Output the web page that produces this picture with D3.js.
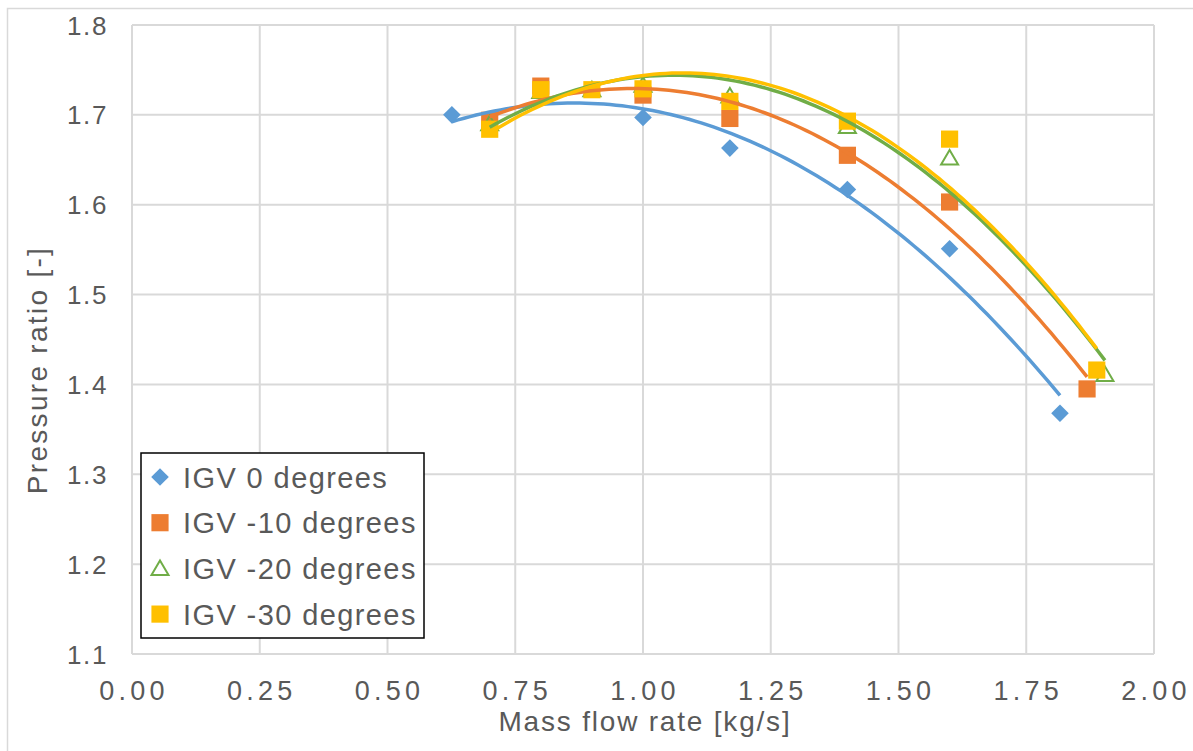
<!DOCTYPE html>
<html>
<head>
<meta charset="utf-8">
<script src="https://cdn.jsdelivr.net/npm/d3@7"></script>
<style>
  body { margin: 0; background: #fff; }
  text { font-family: "Liberation Sans", Arial, sans-serif; fill: #595959; }
</style>
</head>
<body>
<svg id="chart" width="1193" height="751"></svg>
<script>
// data
const seriesNames = ['IGV 0 degrees', 'IGV -10 degrees', 'IGV -20 degrees', 'IGV -30 degrees'];
const seriesColors = ['#5B9BD5', '#ED7D31', '#70AD47', '#FFC000'];
const seriesShapes = ['diamond', 'square', 'triangle', 'square'];

const igv0x = [0.626, 1.00, 1.17, 1.40, 1.60, 1.816];
const igv0y = [1.700, 1.697, 1.663, 1.617, 1.551, 1.368];

const igv10x = [0.70, 0.80, 1.00, 1.17, 1.40, 1.60, 1.869];
const igv10y = [1.694, 1.732, 1.722, 1.696, 1.655, 1.603, 1.395];

const igv20x = [0.70, 0.80, 0.90, 1.00, 1.17, 1.40, 1.60, 1.904];
const igv20y = [1.690, 1.726, 1.728, 1.733, 1.721, 1.687, 1.652, 1.411];

const igv30x = [0.70, 0.80, 0.90, 1.00, 1.17, 1.40, 1.60, 1.888];
const igv30y = [1.684, 1.728, 1.728, 1.729, 1.715, 1.693, 1.673, 1.416];

const xTicks = [0, 0.25, 0.5, 0.75, 1.0, 1.25, 1.5, 1.75, 2.0];
const yTicks = [1.1, 1.2, 1.3, 1.4, 1.5, 1.6, 1.7, 1.8];

const allX = [igv0x, igv10x, igv20x, igv30x];
const allY = [igv0y, igv10y, igv20y, igv30y];

const svg = d3.select('#chart');

const x = d3.scaleLinear().domain([0, 2]).range([132, 1154]);
const y = d3.scaleLinear().domain([1.1, 1.8]).range([654, 25]);

// outer chart border
svg.append('rect')
  .attr('x', 7.5).attr('y', 8.5)
  .attr('width', 1200).attr('height', 760)
  .attr('fill', 'none')
  .attr('stroke', '#d9d9d9')
  .attr('stroke-width', 1.5);

// gridlines
svg.append('g')
  .selectAll('line')
  .data(xTicks)
  .join('line')
  .attr('x1', d => x(d)).attr('x2', d => x(d))
  .attr('y1', y(1.1)).attr('y2', y(1.8))
  .attr('stroke', '#d9d9d9').attr('stroke-width', 2);

svg.append('g')
  .selectAll('line')
  .data(yTicks)
  .join('line')
  .attr('x1', x(0)).attr('x2', x(2))
  .attr('y1', d => y(d)).attr('y2', d => y(d))
  .attr('stroke', '#d9d9d9').attr('stroke-width', 2);

// tick labels
svg.append('g')
  .selectAll('text')
  .data(yTicks)
  .join('text')
  .attr('x', 108)
  .attr('y', d => y(d) + 9.5)
  .attr('text-anchor', 'end')
  .attr('font-size', 26)
  .attr('letter-spacing', 1.6)
  .text(d => d3.format('.1f')(d));

svg.append('g')
  .selectAll('text')
  .data(xTicks)
  .join('text')
  .attr('x', d => x(d) + 2)
  .attr('y', 700)
  .attr('text-anchor', 'middle')
  .attr('font-size', 27)
  .attr('letter-spacing', 4.3)
  .text(d => d3.format('.2f')(d));

// axis titles
svg.append('text')
  .attr('x', 645).attr('y', 731)
  .attr('text-anchor', 'middle')
  .attr('font-size', 28)
  .attr('letter-spacing', 1.8)
  .text('Mass flow rate [kg/s]');

svg.append('text')
  .attr('transform', 'translate(47, 370) rotate(-90)')
  .attr('text-anchor', 'middle')
  .attr('font-size', 28)
  .attr('letter-spacing', 2.3)
  .text('Pressure ratio [-]');

// marker shapes
function markerPath(shape) {
  if (shape === 'diamond') return d3.symbol(d3.symbolSquare, 155)();
  if (shape === 'square') return d3.symbol(d3.symbolSquare, 295)();
  return 'M0,-8L8.5,6.5L-8.5,6.5Z';
}

function drawMarker(sel, i) {
  sel.attr('d', markerPath(seriesShapes[i]))
    .attr('fill', seriesShapes[i] === 'triangle' ? 'none' : seriesColors[i])
    .attr('stroke', seriesShapes[i] === 'triangle' ? seriesColors[i] : 'none')
    .attr('stroke-width', 2);
}

// points
allX.forEach((xs, i) => {
  const pts = xs.map((v, j) => [v, allY[i][j]]);
  svg.append('g')
    .selectAll('path')
    .data(pts)
    .join('path')
    .call(drawMarker, i)
    .attr('transform', d => `translate(${x(d[0])},${y(d[1])})` +
      (seriesShapes[i] === 'diamond' ? ' rotate(45)' : ''));
});

// polynomial (order 2) trendlines, least squares like Excel
function quadFit(xs, ys) {
  const n = xs.length;
  let s = [0, 0, 0, 0, 0], t = [0, 0, 0];
  for (let k = 0; k < n; k++) {
    for (let p = 0; p < 5; p++) s[p] += Math.pow(xs[k], p);
    for (let p = 0; p < 3; p++) t[p] += ys[k] * Math.pow(xs[k], p);
  }
  const A = [[s[0], s[1], s[2], t[0]], [s[1], s[2], s[3], t[1]], [s[2], s[3], s[4], t[2]]];
  for (let c = 0; c < 3; c++) {
    for (let r = c + 1; r < 3; r++) {
      const f = A[r][c] / A[c][c];
      for (let k = c; k < 4; k++) A[r][k] -= f * A[c][k];
    }
  }
  const coef = [0, 0, 0];
  for (let r = 2; r >= 0; r--) {
    let v = A[r][3];
    for (let k = r + 1; k < 3; k++) v -= A[r][k] * coef[k];
    coef[r] = v / A[r][r];
  }
  return coef;
}

const line = d3.line().x(d => x(d[0])).y(d => y(d[1]));

allX.forEach((xs, i) => {
  const c = quadFit(xs, allY[i]);
  const lo = d3.min(xs), hi = d3.max(xs);
  const curve = d3.range(0, 101).map(k => {
    const v = lo + (hi - lo) * k / 100;
    return [v, c[0] + c[1] * v + c[2] * v * v];
  });
  svg.append('path')
    .datum(curve)
    .attr('d', line)
    .attr('fill', 'none')
    .attr('stroke', seriesColors[i])
    .attr('stroke-width', 3.5);
});

// legend
const legend = svg.append('g').attr('transform', 'translate(141, 453)');
legend.append('rect')
  .attr('width', 283).attr('height', 185)
  .attr('fill', '#fff')
  .attr('stroke', '#000')
  .attr('stroke-width', 1.5);

seriesNames.forEach((name, i) => {
  const row = legend.append('g').attr('transform', `translate(0, ${24 + i * 45.7})`);
  row.append('path')
    .call(drawMarker, i)
    .attr('transform', `translate(19,0)` + (seriesShapes[i] === 'diamond' ? ' rotate(45)' : ''));
  row.append('text')
    .attr('x', 42).attr('y', 10.5)
    .attr('font-size', 29)
    .attr('letter-spacing', 1.4)
    .text(name);
});
</script>
</body>
</html>
